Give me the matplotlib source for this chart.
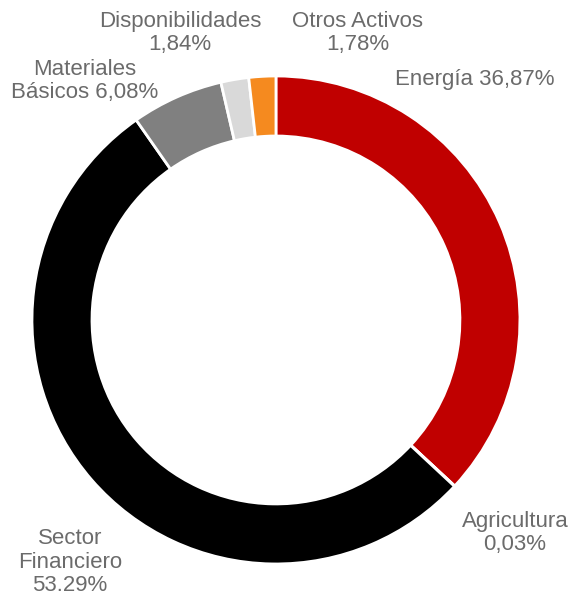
import matplotlib
matplotlib.use("Agg")
import matplotlib.pyplot as plt

plt.rcParams['font.family'] = ['Liberation Sans', 'DejaVu Sans']

sectors = ["Energía", "Agricultura", "Sector Financiero", "Materiales Básicos",
           "Disponibilidades", "Otros Activos"]
shares = [36.87, 0.03, 53.29, 6.08, 1.84, 1.78]
labels = ["Energía 36,87%", "Agricultura\n0,03%", "Sector\nFinanciero\n53.29%",
          "Materiales\nBásicos 6,08%", "Disponibilidades\n1,84%", "Otros Activos\n1,78%"]
colors = ["#C00000", "#BFBFBF", "#000000", "#808080", "#D9D9D9", "#F58A1F"]

# label centres in data units (radius = 1)
label_pos = [(0.816, 0.984), (0.98, -0.873), (-0.844, -0.992),
             (-0.785, 0.98), (-0.393, 1.176), (0.336, 1.176)]

fig = plt.figure(figsize=(5.72, 6.01), dpi=100)
ax = fig.add_axes([0.0559, 0.0616, 0.8531, 0.812])
ax.pie(shares, colors=colors, startangle=90, counterclock=False,
       radius=1.0, wedgeprops=dict(width=0.246, edgecolor="white", linewidth=2))
ax.set_xlim(-1, 1)
ax.set_ylim(-1, 1)
ax.set_aspect("equal")

for lab, (x, y) in zip(labels, label_pos):
    ax.text(x, y, lab, ha="center", va="center", fontsize=16,
            color="#6B6B6B", linespacing=1.15, clip_on=False)

fig.savefig("out.png", dpi=100)
